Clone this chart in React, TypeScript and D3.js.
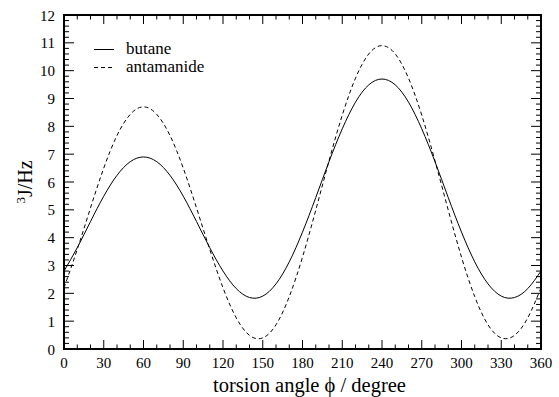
import React from 'react';
import * as d3 from 'd3';

// torsion angle (degree) and coupling constants
const angles = [0, 10, 20, 30, 40, 50, 60, 70, 80, 90, 100, 110, 120, 130, 140, 150, 160, 170, 180,
  190, 200, 210, 220, 230, 240, 250, 260, 270, 280, 290, 300, 310, 320, 330, 340, 350, 360];
const butane = [2.8, 3.64, 4.58, 5.49, 6.24, 6.73, 6.9, 6.73, 6.24, 5.49, 4.58, 3.64, 2.8, 2.17, 1.85,
  1.9, 2.34, 3.13, 4.2, 5.44, 6.73, 7.91, 8.87, 9.49, 9.7, 9.49, 8.87, 7.91, 6.73, 5.44, 4.2, 3.13,
  2.34, 1.9, 1.85, 2.17, 2.8];
const antamanide = [2.2, 3.58, 5.07, 6.5, 7.67, 8.43, 8.7, 8.43, 7.67, 6.5, 5.07, 3.58, 2.2, 1.12, 0.49,
  0.4, 0.87, 1.88, 3.3, 4.99, 6.76, 8.4, 9.73, 10.6, 10.9, 10.6, 9.73, 8.4, 6.76, 4.99, 3.3, 1.88,
  0.87, 0.4, 0.49, 1.12, 2.2];
const seriesNames = ['butane', 'antamanide'];
const xTicks = [0, 30, 60, 90, 120, 150, 180, 210, 240, 270, 300, 330, 360];
const yTicks = [0, 1, 2, 3, 4, 5, 6, 7, 8, 9, 10, 11, 12];

const W = 559;
const H = 397;
const margin = { top: 15, right: 18, bottom: 48, left: 64 };
const serif = { fontFamily: "'Liberation Serif', 'Times New Roman', serif" };

export default function App() {
  const x = d3.scaleLinear().domain([0, 360]).range([margin.left, W - margin.right]);
  const y = d3.scaleLinear().domain([0, 12]).range([H - margin.bottom, margin.top]);
  const x0 = x.range()[0], x1 = x.range()[1];
  const y0 = y.range()[0], y1 = y.range()[1];

  const line = d3
    .line<number>()
    .x((_, i) => x(angles[i]))
    .y(d => y(d))
    .curve(d3.curveNatural);

  const xMinor = d3.range(0, 361, 10).filter(v => v % 30 !== 0);
  const yMinor = d3.range(0, 60).map(v => v / 5).filter(v => Math.abs(v - Math.round(v)) > 1e-6);

  const series = [
    { name: seriesNames[0], values: butane, dash: undefined },
    { name: seriesNames[1], values: antamanide, dash: '4,3' },
  ];

  return (
    <svg width={W} height={H} style={{ position: 'absolute', left: 0, top: 0, background: '#fff', ...serif }}>
      {/* curves */}
      {series.map(s => (
        <path key={s.name} d={line(s.values) || ''} fill="none" stroke="#000" strokeWidth={1}
          strokeDasharray={s.dash} />
      ))}

      {/* ticks, inward on all four sides */}
      <g stroke="#000" strokeWidth={1}>
        {xTicks.map(t => (
          <g key={'xt' + t}>
            <line x1={x(t)} x2={x(t)} y1={y0} y2={y0 - 9} />
            <line x1={x(t)} x2={x(t)} y1={y1} y2={y1 + 9} />
          </g>
        ))}
        {xMinor.map(t => (
          <g key={'xm' + t}>
            <line x1={x(t)} x2={x(t)} y1={y0} y2={y0 - 4.5} />
            <line x1={x(t)} x2={x(t)} y1={y1} y2={y1 + 4.5} />
          </g>
        ))}
        {yTicks.map(t => (
          <g key={'yt' + t}>
            <line x1={x0} x2={x0 + 10} y1={y(t)} y2={y(t)} />
            <line x1={x1} x2={x1 - 10} y1={y(t)} y2={y(t)} />
          </g>
        ))}
        {yMinor.map(t => (
          <g key={'ym' + t}>
            <line x1={x0} x2={x0 + 5} y1={y(t)} y2={y(t)} />
            <line x1={x1} x2={x1 - 5} y1={y(t)} y2={y(t)} />
          </g>
        ))}
      </g>

      {/* frame */}
      <rect x={x0} y={y1} width={x1 - x0} height={y0 - y1} fill="none" stroke="#000" strokeWidth={2} />

      {/* tick labels */}
      <g fontSize={15} fill="#000">
        {xTicks.map(t => (
          <text key={'xl' + t} x={x(t)} y={y0 + 19} textAnchor="middle" style={serif}>{t}</text>
        ))}
        {yTicks.map(t => (
          <text key={'yl' + t} x={x0 - 9} y={y(t) + 5.5} textAnchor="end" style={serif}>{t}</text>
        ))}
      </g>

      {/* axis titles */}
      <text x={213} y={392} fontSize={20.5} style={serif}>torsion angle {'\u03D5'} / degree</text>
      <text transform={`translate(32,${(y0 + y1) / 2}) rotate(-90)`} textAnchor="middle" fontSize={20}
        style={serif}>
        <tspan fontSize={13} dy={-7}>3</tspan>
        <tspan dy={7}>J/Hz</tspan>
      </text>

      {/* legend */}
      {series.map((s, i) => (
        <g key={'lg' + s.name} transform={`translate(0,${49.5 + i * 18})`}>
          <line x1={94} x2={114} y1={0} y2={0} stroke="#000" strokeWidth={1} strokeDasharray={s.dash} />
          <text x={126} y={4.5} fontSize={17} style={serif}>{s.name}</text>
        </g>
      ))}
    </svg>
  );
}
